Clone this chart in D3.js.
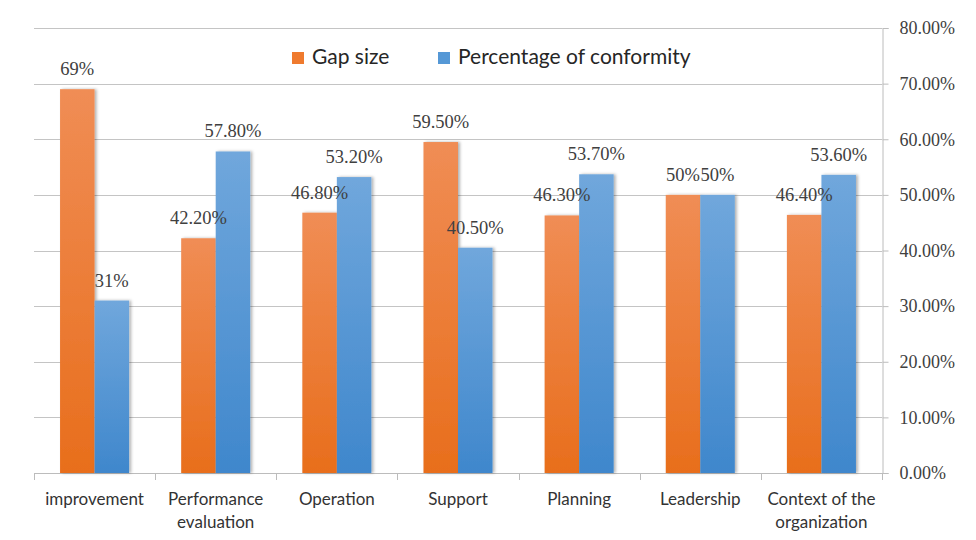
<!DOCTYPE html>
<html>
<head>
<meta charset="utf-8">
<script src="https://cdn.jsdelivr.net/npm/d3@7"></script>
<style>
  body { margin: 0; background: #fff; }
  svg { display: block; }
</style>
</head>
<body>
<div id="chart"></div>
<script>
// data
const categories = ['improvement', 'Performance evaluation', 'Operation', 'Support', 'Planning', 'Leadership', 'Context of the organization'];
const categoryLines = [['improvement'], ['Performance', 'evaluation'], ['Operation'], ['Support'], ['Planning'], ['Leadership'], ['Context of the', 'organization']];
const seriesNames = ['Gap size', 'Percentage of conformity'];
const gapSize = [69, 42.2, 46.8, 59.5, 46.3, 50, 46.4];
const conformity = [31, 57.8, 53.2, 40.5, 53.7, 50, 53.6];
const gapLabels = ['69%', '42.20%', '46.80%', '59.50%', '46.30%', '50%', '46.40%'];
const confLabels = ['31%', '57.80%', '53.20%', '40.50%', '53.70%', '50%', '53.60%'];
const yTicks = [0, 10, 20, 30, 40, 50, 60, 70, 80];

const W = 976, H = 540;
const margin = { top: 28, right: 94, bottom: 67, left: 34 };
const width = W - margin.left - margin.right;
const height = H - margin.top - margin.bottom;

const svg = d3.select('#chart').append('svg').attr('width', W).attr('height', H);
const defs = svg.append('defs');

function grad(id, top, bottom) {
    const lg = defs.append('linearGradient').attr('id', id)
        .attr('x1', 0).attr('y1', 0).attr('x2', 0).attr('y2', 1);
    lg.append('stop').attr('offset', '0%').attr('stop-color', top);
    lg.append('stop').attr('offset', '100%').attr('stop-color', bottom);
}
grad('gOrange', '#F08D55', '#E86E1C');
grad('gBlue', '#70A7DC', '#3F87CC');

const shadow = defs.append('filter').attr('id', 'shadow')
    .attr('x', '-20%').attr('y', '-5%').attr('width', '150%').attr('height', '110%');
shadow.append('feDropShadow').attr('dx', 2).attr('dy', 0).attr('stdDeviation', 1.6)
    .attr('flood-color', '#000').attr('flood-opacity', 0.3);

const g = svg.append('g').attr('transform', `translate(${margin.left},${margin.top})`);

// scales
const x0 = d3.scaleBand().domain(categories).range([0, width]).paddingInner(0.43).paddingOuter(0.215);
const x1 = d3.scaleBand().domain(seriesNames).range([0, x0.bandwidth()]);
const y = d3.scaleLinear().domain([0, 80]).range([height, 0]);

// gridlines
g.append('g').selectAll('line').data(yTicks).join('line')
    .attr('x1', 0).attr('x2', width)
    .attr('y1', d => Math.round(y(d)) + 0.5).attr('y2', d => Math.round(y(d)) + 0.5)
    .attr('stroke', '#c4c4c4').attr('stroke-width', 1);

// right axis
const yAxis = g.append('g').attr('transform', `translate(${width + 0.5},0)`)
    .call(d3.axisRight(y).tickValues(yTicks).tickSize(6).tickPadding(11).tickFormat(d => d.toFixed(2) + '%'));
yAxis.select('.domain').attr('stroke', '#bcbcbc');
yAxis.selectAll('.tick line').attr('stroke', '#bcbcbc');
yAxis.selectAll('.tick text')
    .attr('font-family', '"Liberation Serif", "Times New Roman", serif')
    .attr('font-size', '18px').attr('fill', '#404040');

// bottom axis (ticks between categories)
const bounds = d3.range(categories.length + 1).map(i => i * x0.step());
g.append('line').attr('x1', 0).attr('x2', width)
    .attr('y1', height + 0.5).attr('y2', height + 0.5).attr('stroke', '#bcbcbc');
g.append('g').selectAll('line').data(bounds).join('line')
    .attr('x1', d => Math.round(d) + 0.5).attr('x2', d => Math.round(d) + 0.5)
    .attr('y1', height).attr('y2', height + 7)
    .attr('stroke', '#bcbcbc');

// bars
const rows = categories.map((c, i) => ({
    cat: c,
    items: [
        { s: seriesNames[0], v: gapSize[i], label: gapLabels[i], fill: 'url(#gOrange)' },
        { s: seriesNames[1], v: conformity[i], label: confLabels[i], fill: 'url(#gBlue)' }
    ]
}));

const groups = g.append('g').selectAll('g').data(rows).join('g')
    .attr('transform', d => `translate(${x0(d.cat)},0)`);

groups.selectAll('rect').data(d => d.items).join('rect')
    .attr('x', d => x1(d.s))
    .attr('y', d => y(d.v))
    .attr('width', x1.bandwidth())
    .attr('height', d => height - y(d.v))
    .attr('fill', d => d.fill)
    .attr('filter', 'url(#shadow)');

groups.selectAll('text.val').data(d => d.items).join('text')
    .attr('class', 'val')
    .attr('x', d => x1(d.s) + x1.bandwidth() / 2)
    .attr('y', d => y(d.v) - 14)
    .attr('text-anchor', 'middle')
    .attr('font-family', '"Liberation Serif", "Times New Roman", serif')
    .attr('font-size', '18.5px')
    .attr('fill', '#404040')
    .text(d => d.label);

// category labels
const catText = g.append('g').selectAll('text').data(categories).join('text')
    .attr('x', d => x0(d) + x0.bandwidth() / 2)
    .attr('y', height + 32)
    .attr('text-anchor', 'middle')
    .attr('font-family', 'Lato, "Open Sans", sans-serif')
    .attr('font-size', '17px')
    .attr('fill', '#333');
catText.each(function (d, i) {
    d3.select(this).selectAll('tspan').data(categoryLines[i]).join('tspan')
        .attr('x', x0(d) + x0.bandwidth() / 2)
        .attr('dy', (t, j) => j === 0 ? 0 : 23)
        .text(t => t);
});

// legend
const legend = svg.append('g');
const legendX = [292, 438];
const legendFill = ['#EF7A2E', '#5598D6'];
seriesNames.forEach((name, i) => {
    legend.append('rect')
        .attr('x', legendX[i]).attr('y', 52).attr('width', 12).attr('height', 12)
        .attr('fill', legendFill[i]);
    legend.append('text')
        .attr('x', legendX[i] + 20).attr('y', 64)
        .attr('font-family', 'Lato, "Open Sans", sans-serif')
        .attr('font-size', '21px')
        .attr('fill', '#262626')
        .text(name);
});
</script>
</body>
</html>
